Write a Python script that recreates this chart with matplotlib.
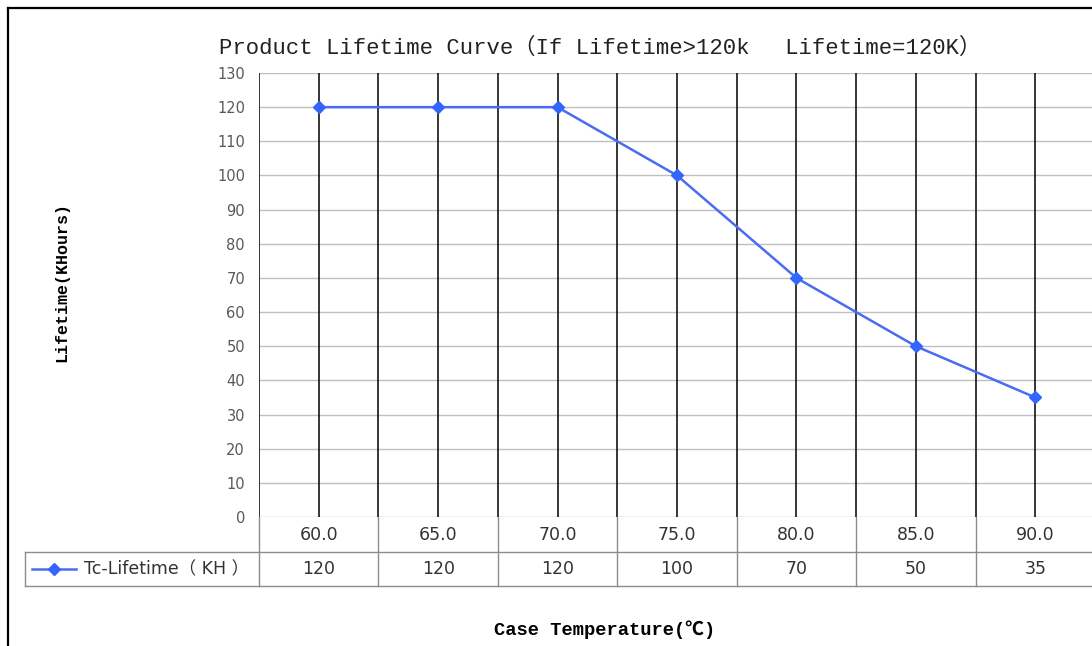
import numpy as np
import matplotlib
matplotlib.use("Agg")
import matplotlib.pyplot as plt
from matplotlib.transforms import blended_transform_factory
from matplotlib.lines import Line2D

# ---- data ----
temps = ["60.0", "65.0", "70.0", "75.0", "80.0", "85.0", "90.0"]
lifetime = [120, 120, 120, 100, 70, 50, 35]
series_name = "Tc-Lifetime（KH）"
yticks = list(range(0, 131, 10))
title = "Product Lifetime Curve（If Lifetime>120k　 Lifetime=120K）"
ylabel = "Lifetime(KHours)"
xlabel = "Case Temperature(℃)"

W, H = 1092, 646
fig = plt.figure(figsize=(W / 100, H / 100), dpi=100)
fig.patch.set_facecolor("white")

# axes position from pixel layout
L, R, T, B = 259, 1095, 73, 517
ax = fig.add_axes([L / W, 1 - B / H, (R - L) / W, (B - T) / H])
n = len(temps)
x = np.arange(n)
ax.set_xlim(-0.5, n - 0.5)
ax.set_ylim(0, 130)

for s in ax.spines.values():
    s.set_visible(False)

# horizontal gridlines
ax.set_yticks(yticks)
ax.set_yticklabels([str(v) for v in yticks], fontsize=10.5, color="#595959",
                   family="DejaVu Sans")
ax.tick_params(axis="y", length=0, pad=10)
ax.set_xticks([])
ax.hlines(yticks, -0.5, n - 0.5, colors="#c0c0c0", lw=1.0, zorder=1)

# black vertical lines at category centers and boundaries
ax.vlines(x, 0, 130, colors="black", lw=1.1, zorder=2)
ax.vlines(np.arange(n + 1) - 0.5, 0, 130, colors="black", lw=1.1, zorder=2)

# series
ax.plot(x, lifetime, color="#4a6cf0", lw=1.8, marker="D", markersize=6.5,
        markerfacecolor="#3366ff", markeredgecolor="#3366ff", zorder=3)

# ---- data table ----
bt = blended_transform_factory(ax.transData, ax.transAxes)
gray = "#8c8c8c"
r1 = -(552 - 517) / (B - T)
r2 = -(586 - 517) / (B - T)
xl = (25 - L) / (R - L)
# horizontal table lines
ax.plot([-0.5, n - 0.5], [r1, r1], transform=bt, color=gray, lw=1, clip_on=False)
ax.plot([-0.5, n - 0.5], [r2, r2], transform=bt, color=gray, lw=1, clip_on=False)
ax.plot([xl, 0], [r1, r1], transform=ax.transAxes, color=gray, lw=1, clip_on=False)
ax.plot([xl, 0], [r2, r2], transform=ax.transAxes, color=gray, lw=1, clip_on=False)
ax.plot([xl, xl], [r1, r2], transform=ax.transAxes, color=gray, lw=1, clip_on=False)
for b in np.arange(n + 1) - 0.5:
    ax.plot([b, b], [0, r2], transform=bt, color=gray, lw=1, clip_on=False)

for i in range(n):
    ax.text(x[i], r1 / 2, temps[i], transform=bt, ha="center", va="center",
            fontsize=12.5, color="#333333", family="DejaVu Sans")
    ax.text(x[i], (r1 + r2) / 2, str(lifetime[i]), transform=bt, ha="center",
            va="center", fontsize=12.5, color="#333333", family="DejaVu Sans")

# legend key in table
ym = (r1 + r2) / 2
ax.add_line(Line2D([(32 - L) / (R - L), (76 - L) / (R - L)], [ym, ym],
                   transform=ax.transAxes, color="#4a6cf0", lw=1.8, clip_on=False))
ax.add_line(Line2D([(54 - L) / (R - L)], [ym], transform=ax.transAxes, marker="D",
                   markersize=6.5, color="#3366ff", clip_on=False))
ax.text((84 - L) / (R - L), ym, series_name.replace("（", "（ ").replace("）", " ）"),
        transform=ax.transAxes, ha="left",
        va="center", fontsize=12.5, color="#333333",
        family=["DejaVu Sans", "Noto Sans CJK SC"])

# titles
fig.text(600 / W, 1 - 48 / H, title, ha="center", va="center", fontsize=16,
         color="#222222", family=["Liberation Mono", "Noto Sans CJK SC"])
fig.text(62 / W, 1 - 282 / H, ylabel, ha="center", va="center", rotation=90,
         fontsize=12, fontweight="bold", color="black",
         family=["Liberation Mono", "DejaVu Sans Mono"])
fig.text(605 / W, 1 - 630 / H, xlabel, ha="center", va="center", fontsize=13.5,
         fontweight="bold", color="black",
         family=["Liberation Mono", "DejaVu Sans Mono", "Noto Sans CJK SC"])

# outer frame (top and left edges visible)
fig.add_artist(Line2D([8 / W, 8 / W], [0, 1 - 8 / H], transform=fig.transFigure,
                      color="black", lw=1.6))
fig.add_artist(Line2D([8 / W, 1], [1 - 8 / H, 1 - 8 / H], transform=fig.transFigure,
                      color="black", lw=1.6))

fig.savefig("out.png", dpi=100, facecolor="white")
